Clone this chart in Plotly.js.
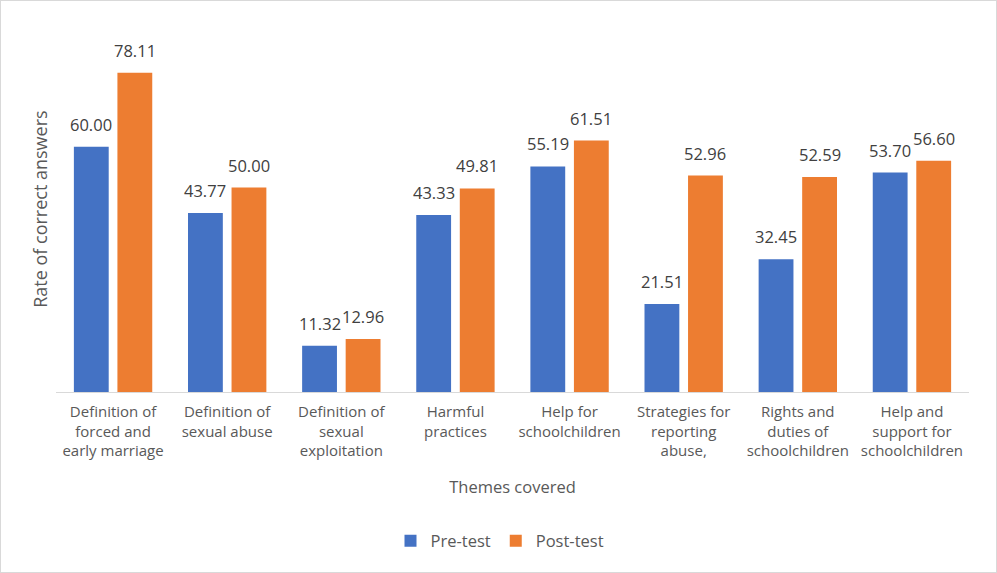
<!DOCTYPE html>
<html>
<head>
<meta charset="utf-8">
<script src="https://cdn.plot.ly/plotly-3.0.1.min.js"></script>
<style>
  html, body { margin: 0; padding: 0; background: #fff; }
  #wrap { position: relative; width: 997px; height: 573px; }
  #chart { position: absolute; left: 0; top: 0; width: 997px; height: 573px; }
  #frame { position: absolute; left: 0; top: 0; width: 997px; height: 573px; box-sizing: border-box; border: 1px solid #d9d9d9; pointer-events: none; }
</style>
</head>
<body>
<div id="wrap"><div id="chart"></div><div id="frame"></div></div>
<script>
const categories = [
  "Definition of<br>forced and<br>early marriage",
  "Definition of<br>sexual abuse",
  "Definition of<br>sexual<br>exploitation",
  "Harmful<br>practices",
  "Help for<br>schoolchildren",
  "Strategies for<br>reporting<br>abuse,",
  "Rights and<br>duties of<br>schoolchildren",
  "Help and<br>support for<br>schoolchildren"
];
const preTest  = [60.00, 43.77, 11.32, 43.33, 55.19, 21.51, 32.45, 53.70];
const postTest = [78.11, 50.00, 12.96, 49.81, 61.51, 52.96, 52.59, 56.60];
const seriesNames = ["Pre-test", "Post-test"];
const axisTitles = { x: "Themes covered", y: "Rate of correct answers" };

const FONT = "'Open Sans', 'Liberation Sans', sans-serif";
const BARGAP = 0.237;
const GROUPGAP = 0.2;
const W = 997, ML = 56, MR = 28;

function barTrace(name, values, color) {
  return {
    type: "bar",
    name: name,
    x: categories,
    y: values,
    marker: { color: color },
    hoverinfo: "x+y"
  };
}

const data = [
  barTrace(seriesNames[0], preTest, "#4472C4"),
  barTrace(seriesNames[1], postTest, "#ED7D31")
];

// data labels placed over each bar of the group
const halfSlot = (1 - BARGAP) / 4;
const annotations = [];
[preTest, postTest].forEach((vals, s) => {
  vals.forEach((v, i) => {
    annotations.push({
      x: i + (s === 0 ? -halfSlot : halfSlot),
      y: v,
      xref: "x", yref: "y",
      text: v.toFixed(2),
      showarrow: false,
      xanchor: "center", yanchor: "bottom",
      yshift: 9,
      font: { family: FONT, size: 16.5, color: "#404040" }
    });
  });
});
annotations.push({
  x: (40 - ML) / (W - ML - MR), xref: "paper", y: 0.557, yref: "paper",
  xanchor: "center", yanchor: "middle",
  text: axisTitles.y, textangle: -90, showarrow: false,
  font: { family: FONT, size: 18, color: "#595959" }
});

const layout = {
  width: W,
  height: 573,
  margin: { l: ML, r: MR, t: 65, b: 181 },
  paper_bgcolor: "#ffffff",
  plot_bgcolor: "#ffffff",
  font: { family: FONT, color: "#595959" },
  barmode: "group",
  bargap: BARGAP,
  bargroupgap: GROUPGAP,
  showlegend: true,
  legend: {
    orientation: "h",
    x: (500 - ML) / (W - ML - MR), xanchor: "center",
    y: -0.456, yanchor: "middle",
    font: { family: FONT, size: 16.5, color: "#595959" },
    itemwidth: 30,
    traceorder: "normal"
  },
  annotations: annotations,
  xaxis: {
    type: "category",
    showline: true,
    linecolor: "#d9d9d9",
    linewidth: 1,
    ticks: "",
    ticklabelstandoff: 6,
    tickfont: { family: FONT, size: 15, color: "#595959" },
    title: { text: axisTitles.x, font: { family: FONT, size: 16.5, color: "#595959" }, standoff: 22 },
    automargin: false
  },
  yaxis: {
    range: [0, 80],
    showgrid: false,
    zeroline: false,
    showticklabels: false,
    showline: false,
    ticks: "",
    automargin: false
  }
};

Plotly.newPlot("chart", data, layout, { displayModeBar: false, staticPlot: true });
</script>
</body>
</html>
